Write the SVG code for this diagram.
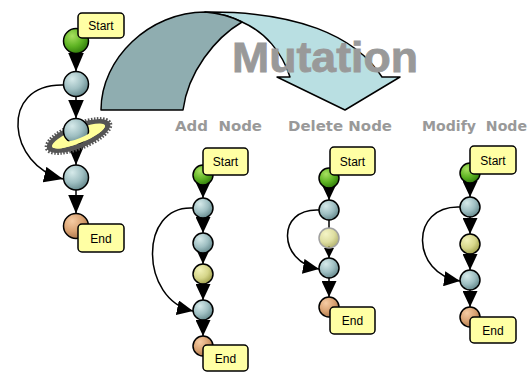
<svg xmlns="http://www.w3.org/2000/svg" width="531" height="372" viewBox="0 0 531 372">
  <defs>
    <radialGradient id="gGreen" cx="35%" cy="30%" r="75%">
      <stop offset="0" stop-color="#a8e060"/>
      <stop offset="0.55" stop-color="#5fb424"/>
      <stop offset="1" stop-color="#2f7a0a"/>
    </radialGradient>
    <radialGradient id="gBlue" cx="35%" cy="30%" r="75%">
      <stop offset="0" stop-color="#d6eaea"/>
      <stop offset="0.55" stop-color="#9fbfc2"/>
      <stop offset="1" stop-color="#62868a"/>
    </radialGradient>
    <radialGradient id="gYellow" cx="35%" cy="30%" r="75%">
      <stop offset="0" stop-color="#f2f2b8"/>
      <stop offset="0.55" stop-color="#d6d68a"/>
      <stop offset="1" stop-color="#9c9c48"/>
    </radialGradient>
    <radialGradient id="gTan" cx="35%" cy="30%" r="75%">
      <stop offset="0" stop-color="#f6cca4"/>
      <stop offset="0.55" stop-color="#d9a272"/>
      <stop offset="1" stop-color="#a8744a"/>
    </radialGradient>
    <marker id="headL" markerUnits="userSpaceOnUse" markerWidth="19" markerHeight="16" refX="19" refY="8" orient="auto">
      <path d="M0,0 L19,8 L0,16 Z" fill="#000"/>
    </marker>
    <marker id="headM" markerUnits="userSpaceOnUse" markerWidth="16" markerHeight="15" refX="16" refY="7.5" orient="auto">
      <path d="M0,0 L16,7.5 L0,15 Z" fill="#000"/>
    </marker>
    <marker id="headS" markerUnits="userSpaceOnUse" markerWidth="10" markerHeight="10" refX="10" refY="5" orient="auto">
      <path d="M0,0 L10,5 L0,10 Z" fill="#000"/>
    </marker>
  </defs>
  <style>
    .edge { fill: none; stroke: #000; stroke-width: 1.5; }
    .node { stroke: #000; stroke-width: 1.5; }
    .blue { fill: url(#gBlue); }
    .green { fill: url(#gGreen); }
    .yellow { fill: url(#gYellow); }
    .tan { fill: url(#gTan); }
    .box { fill: #ffffa4; stroke: #000; stroke-width: 1.5; }
    .boxtxt { font-family: "Liberation Sans", Arial, sans-serif; font-size: 12px; fill: #000; text-anchor: middle; }
    .label { font-family: "DejaVu Sans", Verdana, sans-serif; font-weight: bold; font-size: 14.5px; fill: #999; white-space: pre; }
    .title { font-family: "Liberation Sans", Arial, sans-serif; font-weight: bold; font-size: 43px; fill: #999; stroke: #999; stroke-width: 0.8; }
    .arrowDark { fill: #8fadb0; stroke: #000; stroke-width: 1.5; stroke-linejoin: round; }
    .arrowLight { fill: #b9dfe2; stroke: #000; stroke-width: 1.5; stroke-linejoin: round; }
  </style>

  <!-- big curved mutation arrow -->
  <g id="mutation-arrow">
    <path class="arrowLight" d="M205,12 C295,11 355,35 382,77 L400,77 L345,110 L277,77 L290,77 C282,52 265,32 242,22 C230,16 218,13 205,12 Z"/>
    <path class="arrowDark" d="M101,110 C101,58 150,12 205,12 C218,13 230,16 242,22 C215,38 188,72 183,110 Z"/>
  </g>
  <text class="title" x="232" y="72" textLength="186" lengthAdjust="spacingAndGlyphs">Mutation</text>

  <text class="label" x="175" y="131" textLength="87" lengthAdjust="spacingAndGlyphs">Add  Node</text>
  <text class="label" x="288" y="131" textLength="104" lengthAdjust="spacingAndGlyphs">Delete Node</text>
  <text class="label" x="422" y="131" textLength="105" lengthAdjust="spacingAndGlyphs">Modify  Node</text>

  <!-- connectors -->
  <g id="connectors">
    <!-- original program -->
    <path class="edge" d="M76,45 L76,71.5" marker-end="url(#headL)"/>
    <path class="edge" d="M76,90 L76,118.5" marker-end="url(#headL)"/>
    <path class="edge" d="M76,138 L76,165" marker-end="url(#headL)"/>
    <path class="edge" d="M76,184 L76,213.5" marker-end="url(#headL)"/>
    <path class="edge" d="M63,85 C-2,84 8,166 63,179" marker-end="url(#headL)"/>
    <!-- add node -->
    <path class="edge" d="M203,178 L203,198" marker-end="url(#headM)"/>
    <path class="edge" d="M203,212 L203,233" marker-end="url(#headM)"/>
    <path class="edge" d="M203,247 L203,264" marker-end="url(#headM)"/>
    <path class="edge" d="M203,278 L203,300" marker-end="url(#headM)"/>
    <path class="edge" d="M203,314 L203,336" marker-end="url(#headM)"/>
    <path class="edge" d="M193,208 C138,205 140,300 193,311" marker-end="url(#headM)"/>
    <!-- delete node -->
    <path class="edge" d="M329,181 L329,200" marker-end="url(#headM)"/>
    <path class="edge" d="M329,220 L329,228"/>
    <path class="edge" d="M329,246 L329,258" marker-end="url(#headS)"/>
    <path class="edge" d="M329,272 L329,297" marker-end="url(#headM)"/>
    <path class="edge" d="M319,210 C276,208 278,262 319,269" marker-end="url(#headM)"/>
    <!-- modify node -->
    <path class="edge" d="M470,176 L470,197" marker-end="url(#headM)"/>
    <path class="edge" d="M470,211 L470,234" marker-end="url(#headM)"/>
    <path class="edge" d="M470,248 L470,270" marker-end="url(#headM)"/>
    <path class="edge" d="M470,284 L470,307" marker-end="url(#headM)"/>
    <path class="edge" d="M460,207 C409,205 411,274 460,281" marker-end="url(#headM)"/>
  </g>

  <!-- original program nodes -->
  <g id="p0-start">
    <circle class="node green" cx="76" cy="41" r="12.5"/>
    <rect class="box" x="78" y="13" width="46" height="25" rx="4"/>
    <text class="boxtxt" x="101" y="29.5">Start</text>
  </g>
  <g id="p0-n1"><circle class="node blue" cx="76" cy="84" r="12.5"/></g>
  <g id="p0-n2">
    <g transform="translate(78.5,136) rotate(-22)">
      <ellipse cx="0" cy="0" rx="34" ry="12" fill="#555" stroke="#555" stroke-width="4" stroke-dasharray="1.5 1.5"/>
      <ellipse cx="0" cy="0" rx="28.5" ry="7" fill="#ffff9a"/>
    </g>
    <circle class="node blue" cx="76" cy="131" r="12.5"/>
    <g transform="translate(78.5,136) rotate(-22)">
      <path d="M-28.5,0 A28.5,7 0 0 0 28.5,0 L13,0 A13,2.5 0 0 1 -13,0 Z" fill="#ffff9a"/>
    </g>
  </g>
  <g id="p0-n3"><circle class="node blue" cx="76" cy="177.5" r="12.5"/></g>
  <g id="p0-end">
    <circle class="node tan" cx="76" cy="226" r="12.5"/>
    <rect class="box" x="78" y="224" width="46" height="28" rx="4"/>
    <text class="boxtxt" x="101" y="242.5">End</text>
  </g>

  <!-- add node -->
  <g id="p1-start">
    <circle class="node green" cx="203" cy="175" r="10"/>
    <rect class="box" x="203" y="148" width="45" height="27" rx="4"/>
    <text class="boxtxt" x="225.5" y="166">Start</text>
  </g>
  <g id="p1-n1"><circle class="node blue" cx="203" cy="208" r="10"/></g>
  <g id="p1-n2"><circle class="node blue" cx="203" cy="243" r="10"/></g>
  <g id="p1-n3"><circle class="node yellow" cx="203" cy="274" r="10"/></g>
  <g id="p1-n4"><circle class="node blue" cx="203" cy="310" r="10"/></g>
  <g id="p1-end">
    <circle class="node tan" cx="203" cy="346" r="10"/>
    <rect class="box" x="203" y="345" width="45" height="26" rx="4"/>
    <text class="boxtxt" x="225.5" y="362.5">End</text>
  </g>

  <!-- delete node -->
  <g id="p2-start">
    <circle class="node green" cx="329" cy="178" r="10"/>
    <rect class="box" x="330" y="147" width="45" height="28" rx="4"/>
    <text class="boxtxt" x="352.5" y="165.5">Start</text>
  </g>
  <g id="p2-n1"><circle class="node blue" cx="329" cy="210" r="10"/></g>
  <g id="p2-n2"><circle cx="329" cy="238" r="10" fill="url(#gYellow)" fill-opacity="0.8" stroke="#a0a0a0" stroke-width="1.5"/></g>
  <g id="p2-n3"><circle class="node blue" cx="329" cy="268" r="10"/></g>
  <g id="p2-end">
    <circle class="node tan" cx="329" cy="307" r="10"/>
    <rect class="box" x="330" y="307" width="45" height="27" rx="4"/>
    <text class="boxtxt" x="352.5" y="325">End</text>
  </g>

  <!-- modify node -->
  <g id="p3-start">
    <circle class="node green" cx="470" cy="173" r="10"/>
    <rect class="box" x="470" y="146" width="46" height="28" rx="4"/>
    <text class="boxtxt" x="493" y="164.5">Start</text>
  </g>
  <g id="p3-n1"><circle class="node blue" cx="470" cy="207" r="10"/></g>
  <g id="p3-n2"><circle class="node yellow" cx="470" cy="244" r="10"/></g>
  <g id="p3-n3"><circle class="node blue" cx="470" cy="280" r="10"/></g>
  <g id="p3-end">
    <circle class="node tan" cx="470" cy="317" r="10"/>
    <rect class="box" x="470" y="317" width="46" height="26" rx="4"/>
    <text class="boxtxt" x="493" y="334.5">End</text>
  </g>
</svg>
